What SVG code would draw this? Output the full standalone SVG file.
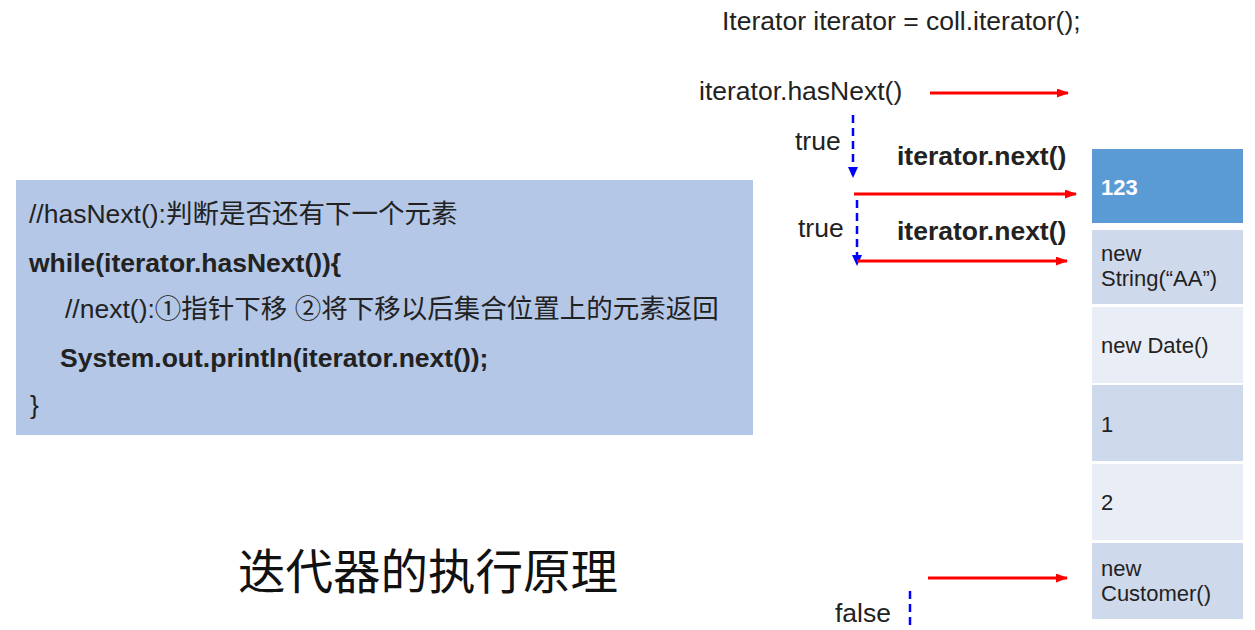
<svg xmlns="http://www.w3.org/2000/svg" width="1255" height="630" viewBox="0 0 1255 630">
<defs>
<style>
text{font-family:"Liberation Sans","Noto Sans CJK SC",sans-serif;fill:#222;}
.t{font-size:26.5px;}
.b{font-size:26.5px;font-weight:bold;}
.c{font-size:22px;}
.title{font-family:"Noto Sans CJK SC",serif;font-size:47.5px;fill:#111;}
.red{stroke:#ff0000;stroke-width:3;fill:none;}
.blue{stroke:#0000ff;stroke-width:2.5;fill:none;stroke-dasharray:8,5;}
</style>
<marker id="ar" markerWidth="12" markerHeight="9" refX="11" refY="4.5" orient="auto" markerUnits="userSpaceOnUse">
<path d="M0,0 L12,4.5 L0,9 Z" fill="#ff0000"/>
</marker>
<marker id="ab" markerWidth="10" markerHeight="11" refX="5" refY="10" orient="0" markerUnits="userSpaceOnUse">
<path d="M0,0 L10,0 L5,11 Z" fill="#0000ff"/>
</marker>
</defs>
<rect width="1255" height="630" fill="#ffffff"/>

<g id="code">
<rect x="16" y="180" width="737" height="255" fill="#b4c7e7"/>
<text class="t" x="29" y="223">//hasNext():判断是否还有下一个元素</text>
<text class="b" x="29" y="272">while(iterator.hasNext()){</text>
<text class="t" x="65" y="318">//next():①指针下移 ②将下移以后集合位置上的元素返回</text>
<text class="b" x="60" y="367">System.out.println(iterator.next());</text>
<text class="t" x="30" y="414">}</text>
</g>

<g id="title">
<text class="title" x="238" y="589">迭代器的执行原理</text>
</g>

<g id="labels">
<text class="t" x="722" y="30">Iterator iterator = coll.iterator();</text>
<text class="t" x="699" y="100">iterator.hasNext()</text>
<text class="t" x="795" y="150">true</text>
<text class="b" x="897" y="165">iterator.next()</text>
<text class="t" x="798" y="237">true</text>
<text class="b" x="897" y="240">iterator.next()</text>
<text class="t" x="835" y="622">false</text>
</g>

<g id="cell1"><rect x="1092" y="149" width="151" height="74" fill="#5b9bd5"/><text class="c" x="1101" y="195" style="font-weight:bold;fill:#ffffff">123</text></g>
<g id="cell2"><rect x="1092" y="230" width="151" height="74" fill="#cfd9ec"/><text class="c" x="1101" y="261">new</text><text class="c" x="1101" y="286">String(“AA”)</text></g>
<g id="cell3"><rect x="1092" y="307" width="151" height="76" fill="#e9edf5"/><text class="c" x="1101" y="353">new Date()</text></g>
<g id="cell4"><rect x="1092" y="385" width="151" height="76" fill="#cfd9ec"/><text class="c" x="1101" y="432">1</text></g>
<g id="cell5"><rect x="1092" y="464" width="151" height="76" fill="#e9edf5"/><text class="c" x="1101" y="510">2</text></g>
<g id="cell6"><rect x="1092" y="543" width="151" height="76" fill="#cfd9ec"/><text class="c" x="1101" y="576">new</text><text class="c" x="1101" y="601">Customer()</text></g>

<g id="connectors">
<line class="red" x1="930" y1="93" x2="1068" y2="93" marker-end="url(#ar)"/>
<line class="blue" x1="853" y1="115" x2="853" y2="177" marker-end="url(#ab)"/>
<line class="red" x1="854" y1="194" x2="1076" y2="194" marker-end="url(#ar)"/>
<line class="blue" x1="857" y1="200" x2="857" y2="265" marker-end="url(#ab)"/>
<line class="red" x1="857" y1="261" x2="1067" y2="261" marker-end="url(#ar)"/>
<line class="red" x1="928" y1="578" x2="1067" y2="578" marker-end="url(#ar)"/>
<line class="blue" x1="910" y1="591" x2="910" y2="630"/>
</g>
</svg>
